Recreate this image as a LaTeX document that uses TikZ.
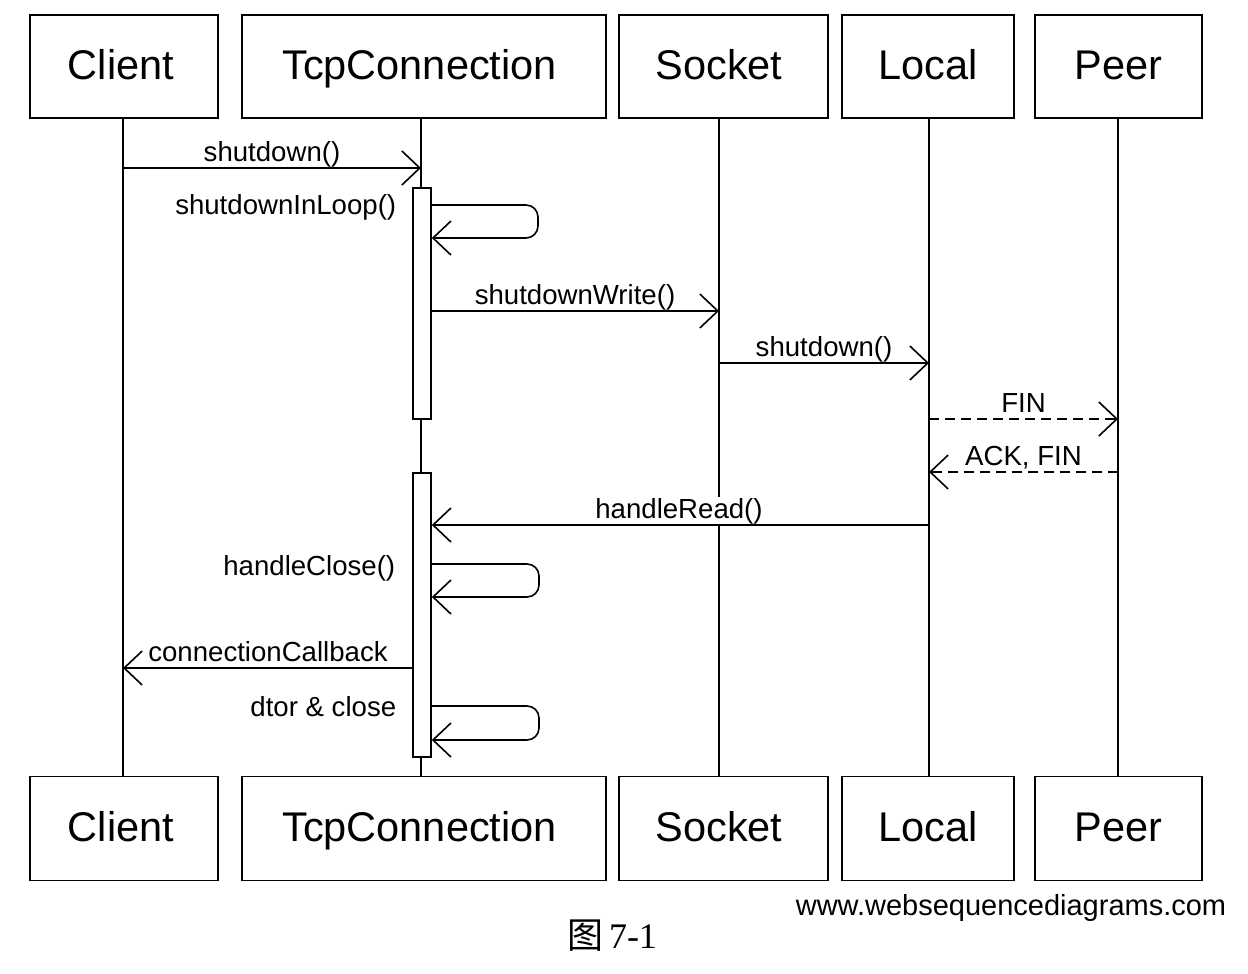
\documentclass[tikz,border=0pt]{standalone}
\usepackage{fontspec}
\setmainfont{Liberation Sans}
\newfontfamily\cjkfont{Noto Sans CJK SC}
\newfontfamily\capserif{Liberation Serif}
\usetikzlibrary{arrows.meta}
\newcommand{\txtnudge}[1]{\hspace*{#1}}
\begin{document}
\begin{tikzpicture}[x=1bp,y=-1bp,
  line width=1.6bp,
  box/.style={draw, fill=white, inner sep=0pt, text height=25bp, text depth=0pt,
    font=\fontsize{41.5bp}{48bp}\selectfont},
  msgfont/.style={font=\fontsize{27.6bp}{32bp}\selectfont},
  lbl/.style={msgfont, fill=white, inner sep=1bp, anchor=base},
  selflbl/.style={msgfont, inner sep=0pt, anchor=base east},
  tip/.style={-{Straight Barb[length=18bp,width=34bp,line width=1.6bp]}},
  msg/.style={tip},
  reply/.style={tip, dash pattern=on 10bp off 6bp},
  act/.style={draw, fill=white, minimum width=18bp, inner sep=0pt},
  selfloop/.style={tip, rounded corners=12bp},
]
\useasboundingbox (0,0) rectangle (1248,974);

% lifeline x positions
\coordinate (Lc) at (123,0);
\coordinate (Lt) at (421,0);
\coordinate (Ls) at (719,0);
\coordinate (Ll) at (929,0);
\coordinate (Lp) at (1118,0);

% participant boxes (top)
\node[box, minimum width=188bp, minimum height=103bp] (cT) at (124,66.5) {\txtnudge{-6bp}Client};
\node[box, minimum width=364bp, minimum height=103bp] (tT) at (424,66.5) {\txtnudge{-9bp}TcpConnection};
\node[box, minimum width=209bp, minimum height=103bp] (sT) at (723.5,66.5) {\txtnudge{-9bp}Socket};
\node[box, minimum width=172bp, minimum height=103bp] (lT) at (928,66.5) {Local};
\node[box, minimum width=167bp, minimum height=103bp] (pT) at (1118.5,66.5) {Peer};
% participant boxes (bottom)
\node[box, minimum width=188bp, minimum height=104bp] (cB) at (124,828.5) {\txtnudge{-6bp}Client};
\node[box, minimum width=364bp, minimum height=104bp] (tB) at (424,828.5) {\txtnudge{-9bp}TcpConnection};
\node[box, minimum width=209bp, minimum height=104bp] (sB) at (723.5,828.5) {\txtnudge{-9bp}Socket};
\node[box, minimum width=172bp, minimum height=104bp] (lB) at (928,828.5) {Local};
\node[box, minimum width=167bp, minimum height=104bp] (pB) at (1118.5,828.5) {Peer};

% lifelines
\draw (Lc |- cT.south) -- (Lc |- cB.north);
\draw (Lt |- tT.south) -- (Lt |- tB.north);
\draw (Ls |- sT.south) -- (Ls |- sB.north);
\draw (Ll |- lT.south) -- (Ll |- lB.north);
\draw (Lp |- pT.south) -- (Lp |- pB.north);

% activations
\node[act, minimum height=231bp] (a1) at (422,303.5) {};
\node[act, minimum height=284bp] (a2) at (422,615) {};

% message labels (drawn before the arrows)
\node[lbl] (m1) at (272,161) {shutdown()};
\node[selflbl] (m2) at (397,214) {shutdownInLoop()};
\node[lbl] (m3) at (575,304) {shutdownWrite()};
\node[lbl] (m4) at (824,356) {shutdown()};
\node[lbl] (m5) at (1023.5,412) {FIN};
\node[lbl] (m6) at (1023.5,465) {ACK, FIN};
\node[lbl] (m7) at (679,518) {handleRead()};
\node[selflbl] (m8) at (396,575) {handleClose()};
\node[lbl] (m9) at (268,661) {connectionCallback};
\node[selflbl] (m10) at (397,716) {dtor \& close};

% messages
\draw[msg] (Lc |- 0,168) -- (Lt |- 0,168);
\draw[selfloop] (a1.east |- 0,205) -- (538,205) -- (538,238) -- (a1.east |- 0,238);
\draw[msg] (a1.east |- 0,311) -- (Ls |- 0,311);
\draw[msg] (Ls |- 0,363) -- (Ll |- 0,363);
\draw[reply] (Ll |- 0,419) -- (Lp |- 0,419);
\draw[reply] (Lp |- 0,472) -- (Ll |- 0,472);
\draw[msg] (Ll |- 0,525) -- (a2.east |- 0,525);
\draw[selfloop] (a2.east |- 0,564) -- (539,564) -- (539,597) -- (a2.east |- 0,597);
\draw[msg] (a2.west |- 0,668) -- (Lc |- 0,668);
\draw[selfloop] (a2.east |- 0,706) -- (539,706) -- (539,740) -- (a2.east |- 0,740);

% footer
\node[anchor=base east, inner sep=0pt, font=\fontsize{29bp}{34bp}\selectfont] (url) at (1227,915) {www.websequencediagrams.com};
\node[anchor=base, inner sep=0pt, font=\fontsize{36bp}{40bp}\selectfont] (cap) at (612,948) {{\cjkfont 图}\,{\capserif 7-1}};
\end{tikzpicture}
\end{document}
